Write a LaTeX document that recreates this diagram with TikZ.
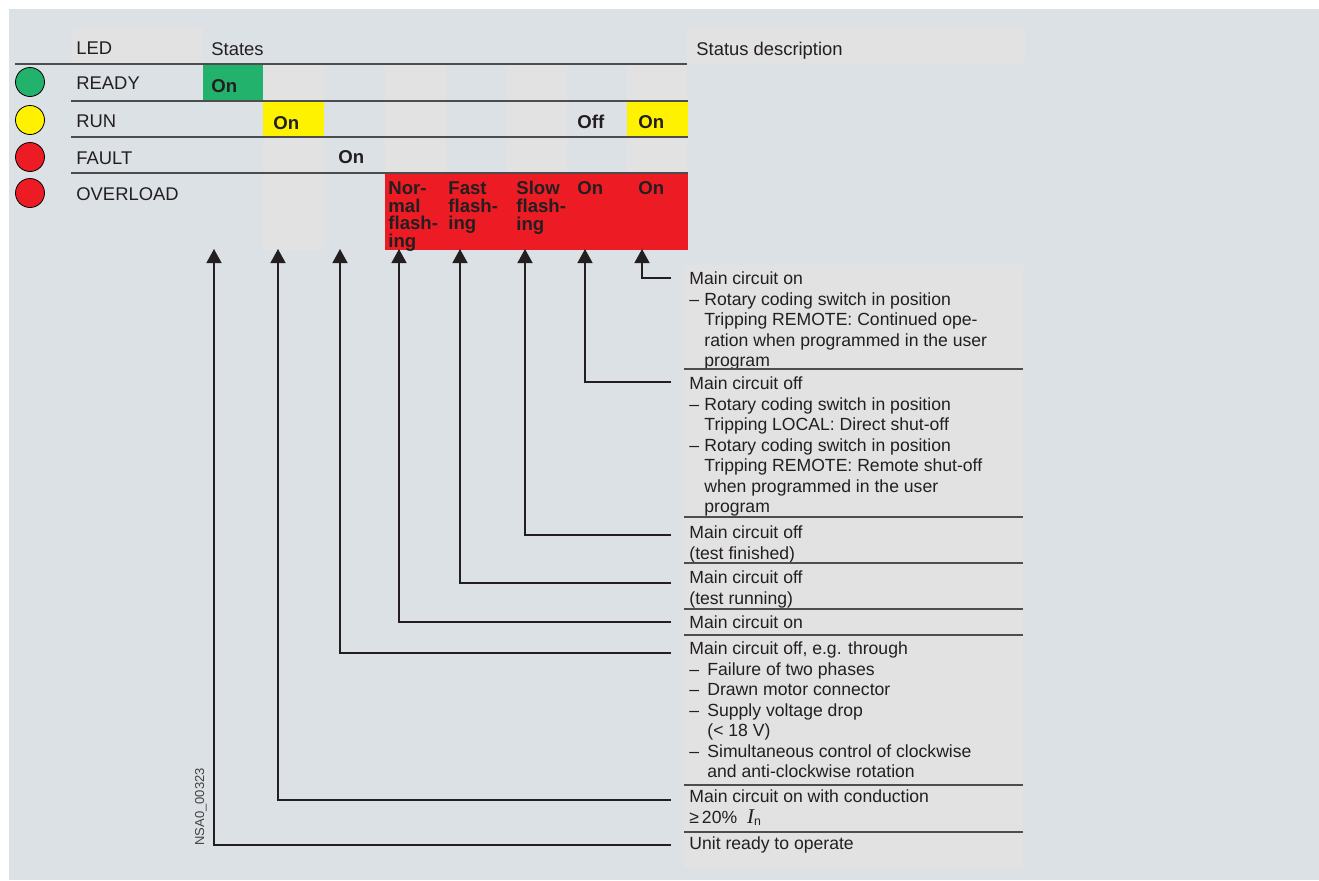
\documentclass[tikz,border=0pt]{standalone}
\usepackage{fontspec}
\setmainfont{Liberation Sans}
\newfontfamily\serifital{Liberation Serif}
\usetikzlibrary{arrows.meta}

\definecolor{bggray}{HTML}{DCE1E5}
\definecolor{cellgray}{HTML}{E2E2E2}
\definecolor{ledgreen}{HTML}{23B26C}
\definecolor{ledyellow}{HTML}{FFF200}
\definecolor{ledred}{HTML}{ED1C24}
\definecolor{ink}{HTML}{231F20}
\definecolor{rulegray}{HTML}{4D4D4D}

\newcommand{\itemdash}{\makebox[7.5pt][l]{–}}
\newcommand{\itemind}{\hspace*{7.5pt}}
\newcommand{\wideitemdash}{\makebox[9pt][l]{–}}
\newcommand{\wideitemind}{\hspace*{9pt}}

\begin{document}
\begin{tikzpicture}[
    x=0.5pt, y=-0.5pt,
    led/.style={circle, draw=black, line width=0.4pt, minimum size=14.5pt, inner sep=0pt},
    ledname/.style={anchor=base west, inner sep=0pt, text=ink, font=\fontsize{9.2}{11}\selectfont},
    stateon/.style={anchor=base west, inner sep=0pt, text=ink, font=\bfseries\fontsize{9.3}{11}\selectfont},
    flash/.style={anchor=north west, inner sep=0pt, align=left, text=ink, font=\bfseries\fontsize{9.3}{8.9}\selectfont},
    desc/.style={anchor=north west, inner sep=0pt, align=left, text=ink, font=\fontsize{8.8}{10.25}\selectfont},
    sepline/.style={draw=rulegray, line width=0.6pt},
    arrow/.style={draw=ink, line width=0.7pt, -{Triangle[width=7.5pt,length=7pt]}}
]

% Canvas
\useasboundingbox (0,0) rectangle (1319,880);
\fill[white] (0,0) rectangle (1319,880);
\fill[bggray] (9,9) rectangle (1319,880);

% Header cells
\fill[cellgray] (72,28) rectangle (203,63);
\fill[cellgray] (687,28) rectangle (1025,63);
\node[ledname] (hled) at (76,54) {LED};
\node[ledname] (hstates) at (211,55) {States};
\node[ledname] (hstatus) at (696,55) {Status description};

% State columns
\fill[cellgray] (263,65) rectangle (324,250);
\fill[cellgray] (385,65) rectangle (446,250);
\fill[cellgray] (507,65) rectangle (567,250);
\fill[cellgray] (627,65) rectangle (687,250);

% Lit LEDs
\fill[ledgreen] (203,65) rectangle (263,101);
\fill[ledyellow] (263,101) rectangle (324,137);
\fill[ledyellow] (627,101) rectangle (688,137);
\fill[ledred] (385,173) rectangle (688,250);

% Row rules
\draw[sepline] (15,64) -- (687,64);
\draw[sepline] (71,101) -- (688,101);
\draw[sepline] (71,137) -- (688,137);
\draw[sepline] (71,173) -- (688,173);

% LEDs
\node[led, fill=ledgreen] (ready) at (30,82) {};
\node[led, fill=ledyellow] (run) at (30,120) {};
\node[led, fill=ledred] (fault) at (30,157) {};
\node[led, fill=ledred] (overload) at (30,193) {};
\node[ledname] (lready) at (76,89) {READY};
\node[ledname] (lrun) at (76,127) {RUN};
\node[ledname] (lfault) at (76,164) {FAULT};
\node[ledname] (loverload) at (76,200) {OVERLOAD};

% States
\node[stateon] (s1) at (211,92) {On};
\node[stateon] (s2) at (273,129) {On};
\node[stateon] (s7run) at (577,128) {Off};
\node[stateon] (s8run) at (638,128) {On};
\node[stateon] (s3) at (338,163) {On};
\node[flash] (s4) at (388,181) {Nor-\\mal\\flash-\\ing};
\node[flash] (s5) at (448,181) {Fast\\flash-\\ing};
\node[flash] (s6) at (516,181) {Slow\\flash-\\ing};
\node[flash] (s7) at (577,181) {On};
\node[flash] (s8) at (638,181) {On};

% Status descriptions
\fill[cellgray] (684,265) rectangle (1023,867);
\node[desc] (d8) at (689,270) {\strut Main circuit on\\
  \itemdash Rotary coding switch in position\\
  \itemind Tripping REMOTE: Continued ope-\\
  \itemind ration when programmed in the user\\
  \itemind program};
\node[desc] (d7) at (689,375) {\strut Main circuit off\\
  \itemdash Rotary coding switch in position\\
  \itemind Tripping LOCAL: Direct shut-off\\
  \itemdash Rotary coding switch in position\\
  \itemind Tripping REMOTE: Remote shut-off\\
  \itemind when programmed in the user\\
  \itemind program};
\node[desc] (d6) at (689,524) {\strut Main circuit off\\(test finished)};
\node[desc] (d5) at (689,569) {\strut Main circuit off\\(test running)};
\node[desc] (d4) at (689,614) {\strut Main circuit on};
\node[desc] (d3) at (689,640) {\strut Main circuit off, e.g. through\\
  \wideitemdash Failure of two phases\\
  \wideitemdash Drawn motor connector\\
  \wideitemdash Supply voltage drop\\
  \wideitemind (< 18 V)\\
  \wideitemdash Simultaneous control of clockwise\\
  \wideitemind and anti-clockwise rotation};
\node[desc] (d2) at (689,788) {\strut Main circuit on with conduction\\
  ≥\,20\%\hspace{5pt}{\serifital\itshape\fontsize{10.5}{10}\selectfont I}\textsubscript{n}};
\node[desc] (d1) at (689,835) {\strut Unit ready to operate};

\draw[sepline] (684,369) -- (1023,369);
\draw[sepline] (684,517) -- (1023,517);
\draw[sepline] (684,563) -- (1023,563);
\draw[sepline] (684,609) -- (1023,609);
\draw[sepline] (684,635) -- (1023,635);
\draw[sepline] (684,785) -- (1023,785);
\draw[sepline] (684,832) -- (1023,832);

% Arrow tips under the states
\coordinate (t1) at (214,249);
\coordinate (t2) at (278,249);
\coordinate (t3) at (340,249);
\coordinate (t4) at (399,249);
\coordinate (t5) at (460,249);
\coordinate (t6) at (525,249);
\coordinate (t7) at (585,249);
\coordinate (t8) at (642,249);

% Elbow starts beside the descriptions
\coordinate (e1) at (671,845);
\coordinate (e2) at (671,800);
\coordinate (e3) at (671,653);
\coordinate (e4) at (671,622);
\coordinate (e5) at (671,583);
\coordinate (e6) at (671,535);
\coordinate (e7) at (671,382);
\coordinate (e8) at (671,278);

% Arrows
\draw[arrow] (e1) -| (t1);
\draw[arrow] (e2) -| (t2);
\draw[arrow] (e3) -| (t3);
\draw[arrow] (e4) -| (t4);
\draw[arrow] (e5) -| (t5);
\draw[arrow] (e6) -| (t6);
\draw[arrow] (e7) -| (t7);
\draw[arrow] (e8) -| (t8);

% Drawing number
\node[rotate=90, anchor=west, inner sep=0pt, text=ink!85, font=\fontsize{6.5}{7}\selectfont] (code) at (201,846) {NSA0\_00323};

\end{tikzpicture}
\end{document}
